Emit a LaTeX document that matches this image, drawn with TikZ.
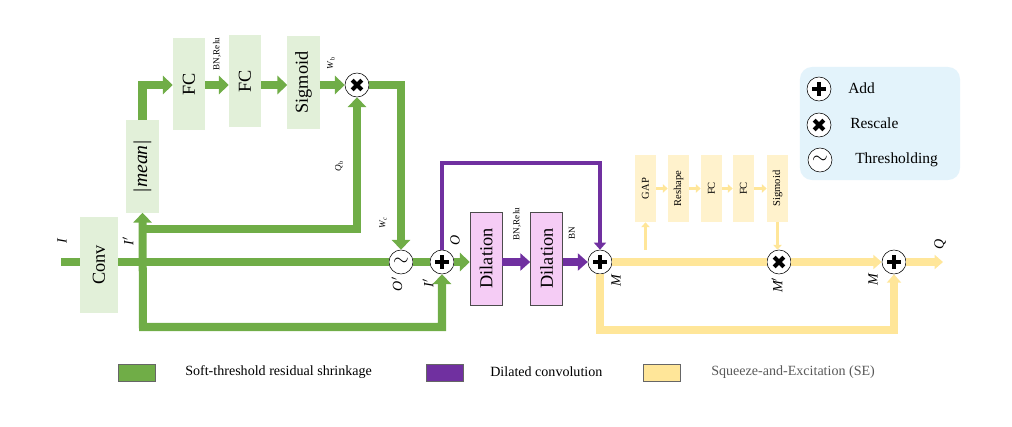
\documentclass[tikz,border=0pt]{standalone}
\usepackage{fontspec}
\setmainfont{Liberation Serif}
\usetikzlibrary{arrows.meta,positioning}
\definecolor{gline}{HTML}{70AD47}
\definecolor{gbox}{HTML}{E2F0D9}
\definecolor{pline}{HTML}{7030A0}
\definecolor{pbox}{HTML}{F5CCF5}
\definecolor{yline}{HTML}{FFE699}
\definecolor{ybox}{HTML}{FFF2CC}
\definecolor{legbg}{HTML}{E3F3FB}
\def\rot#1{\rotatebox{90}{#1}}

\begin{document}
\begin{tikzpicture}[x=0.025cm,y=-0.025cm,
  gblk/.style={fill=gbox,inner sep=0,minimum width=0.8cm,minimum height=2.3cm,font=\fontsize{13}{14}\selectfont},
  dblk/.style={fill=pbox,draw=black!70,inner sep=0,minimum width=0.8cm,minimum height=2.325cm,font=\fontsize{13}{14}\selectfont},
  yblk/.style={fill=ybox,inner sep=0,minimum width=0.525cm,minimum height=1.675cm,font=\fontsize{7.5}{8}\selectfont},
  op/.style={circle,draw,fill=white,thin,inner sep=0,minimum size=0.6cm},
  addop/.style={op,path picture={
    \draw[line width=3pt] ([xshift=-0.17cm]path picture bounding box.center) -- ++(0.34cm,0)
      ([yshift=-0.17cm]path picture bounding box.center) -- ++(0,0.34cm);}},
  mulop/.style={op,path picture={
    \draw[line width=3pt] ([shift={(-0.12cm,-0.12cm)}]path picture bounding box.center) -- ++(0.24cm,0.24cm)
      ([shift={(-0.12cm,0.12cm)}]path picture bounding box.center) -- ++(0.24cm,-0.24cm);}},
  throp/.style={op,font=\Large},
  lbl/.style={rotate=90,font=\fontsize{10}{11}\selectfont\itshape,inner sep=0},
  tiny/.style={rotate=90,font=\fontsize{6.5}{7}\selectfont,inner sep=0},
  gl/.style={gline,line width=5.7pt},
  gar/.style={gl,-{Triangle[length=7pt,width=13pt]}},
  pl/.style={pline,line width=3pt},
  par/.style={pl,-{Triangle[length=5pt,width=8.5pt]}},
  pbar/.style={pline,line width=5.7pt,-{Triangle[length=7pt,width=12pt]}},
  yl/.style={yline,line width=5pt},
  yar/.style={yl,-{Triangle[length=6pt,width=10pt]}},
  ysar/.style={yline,line width=2.2pt,-{Triangle[length=3.5pt,width=6pt]}}]%<<<
\useasboundingbox (0,0) rectangle (1012,427);
\node[gblk,minimum width=0.95cm,minimum height=2.375cm] (conv) at (99,265) {\rot{Conv}};
\node[gblk,font=\fontsize{14}{15}\selectfont\itshape] (mean) at (142.5,166.5) {\rot{|mean|}};
\node[gblk] (fc1) at (189,84) {\rot{FC}};
\node[gblk] (fc2) at (245,81) {\rot{FC}};
\node[gblk] (sig1) at (303.5,82.5) {\rot{Sigmoid}};
\node[mulop] (resc1) at (357,85) {};
\node[throp] (thr) at (401,262) {$\sim$};
\node[addop] (add1) at (442,262) {};
\node[dblk] (dil1) at (486,258.5) {\rot{Dilation}};
\node[dblk] (dil2) at (546.5,258.5) {\rot{Dilation}};
\node[addop] (add2) at (600,262) {};
\node[yblk] (gap) at (645.5,188.5) {\rot{GAP}};
\node[yblk] (resh) at (678.5,188.5) {\rot{Reshape}};
\node[yblk] (fc3) at (711.5,188.5) {\rot{FC}};
\node[yblk] (fc4) at (743.5,188.5) {\rot{FC}};
\node[yblk] (sig2) at (777.5,188.5) {\rot{Sigmoid}};
\node[mulop] (resc2) at (779,262) {};
\node[addop] (add3) at (894,262) {};
\coordinate (in) at (61,262);
\coordinate (out) at (943,262);
\coordinate (b1) at (143,327);
\coordinate (b2) at (143,229);
\coordinate (ptop) at (521,163);
\coordinate (b3) at (747,330);

\draw[gl] (in) -- (in -| conv.west) (conv.east |- in) -- (thr.west) (thr.east) -- (add1.west);
\draw[gar] (add1.east) -- (add1 -| dil1.west);
\draw[gl,{Triangle[length=7pt,width=13pt]}-{Triangle[length=7pt,width=13pt]}] (mean.south) -- (b1) -| (add1.south);
\draw[gar] (b2) -| (resc1.south);
\draw[gar] (mean.north) |- (resc1 -| fc1.west);
\draw[gar] (resc1 -| fc1.east) -- (resc1 -| fc2.west);
\draw[gar] (resc1 -| fc2.east) -- (resc1 -| sig1.west);
\draw[gar] (resc1 -| sig1.east) -- (resc1.west);
\draw[gar] (resc1.east) -| (thr.north);

\draw[par] (add1.north) |- (ptop) -| (add2.north);
\draw[pbar] (add1 -| dil1.east) -- (add1 -| dil2.west);
\draw[pbar] (add1 -| dil2.east) -- (add2.west);

\draw[yl] (add2.east) -- (resc2.west);
\draw[yar] (resc2.east) -- (add3.west);
\draw[yar] (add3.east) -- (out);
\draw[yar] (add2.south) |- (b3) -| (add3.south);
\draw[ysar] (gap.south |- add2.north) -- (gap.south);
\foreach \a/\b in {gap/resh,resh/fc3,fc3/fc4,fc4/sig2}
  \draw[ysar] (\a.east) -- (\b.west);
\draw[ysar] (sig2.south) -- (sig2.south |- resc2.north);

\node[lbl] (lI) at (62,241) {I};
\node[lbl] (lI1) at (128,241) {I$'$};
\node[lbl] (lO1) at (397,284) {O$'$};
\node[lbl] (lI2) at (428,283) {I$'$};
\node[lbl] (lO) at (455,240) {O};
\node[lbl] (lM1) at (616,281) {M};
\node[lbl] (lM2) at (777,285) {M$'$};
\node[lbl] (lM3) at (873,280) {M};
\node[lbl] (lQ) at (940,244) {Q};
\node[tiny] (lbr1) at (217,54) {BN,Relu};
\node[tiny] (lwb) at (331,63) {\textit{W}\textsubscript{b}};
\node[tiny] (lqb) at (339,166) {\textit{Q}\textsubscript{b}};
\node[tiny] (lwc) at (383,223) {\textit{W}\textsubscript{\textit{c}}};
\node[tiny] (lbr2) at (517,224) {BN,Relu};
\node[tiny] (lbn) at (572,233) {BN};

\node[fill=legbg,rounded corners=0.3cm,minimum width=4cm,minimum height=2.825cm] (leg) at (880,123.5) {};
\node[addop] (kadd) at (819,89) {};
\node[mulop] (kmul) at (819,125) {};
\node[throp] (kthr) at (820,160) {$\sim$};
\node[anchor=west,font=\fontsize{11}{12}\selectfont,inner sep=0] (tadd) at (848,88) {Add};
\node[anchor=west,font=\fontsize{11}{12}\selectfont,inner sep=0] (tmul) at (850,123) {Rescale};
\node[anchor=west,font=\fontsize{11}{12}\selectfont,inner sep=0] (tthr) at (855,160) {Thresholding};

\node[fill=gline,draw=black!60,minimum width=0.925cm,minimum height=0.425cm,inner sep=0] (kg) at (136.5,372.5) {};
\node[fill=pline,draw=black!60,minimum width=0.925cm,minimum height=0.425cm,inner sep=0] (kp) at (444.5,372.5) {};
\node[fill=yline,draw=black!60,minimum width=0.925cm,minimum height=0.425cm,inner sep=0] (ky) at (662,372.5) {};
\node[anchor=west,font=\fontsize{10}{11}\selectfont,inner sep=0] (tg) at (185,372) {Soft-threshold residual shrinkage};
\node[anchor=west,font=\fontsize{10}{11}\selectfont,inner sep=0] (tp) at (490,372) {Dilated convolution};
\node[anchor=west,font=\fontsize{10}{11}\selectfont,inner sep=0,text=black!65] (ty) at (711,372) {Squeeze-and-Excitation (SE)};
\end{tikzpicture}
\end{document}
